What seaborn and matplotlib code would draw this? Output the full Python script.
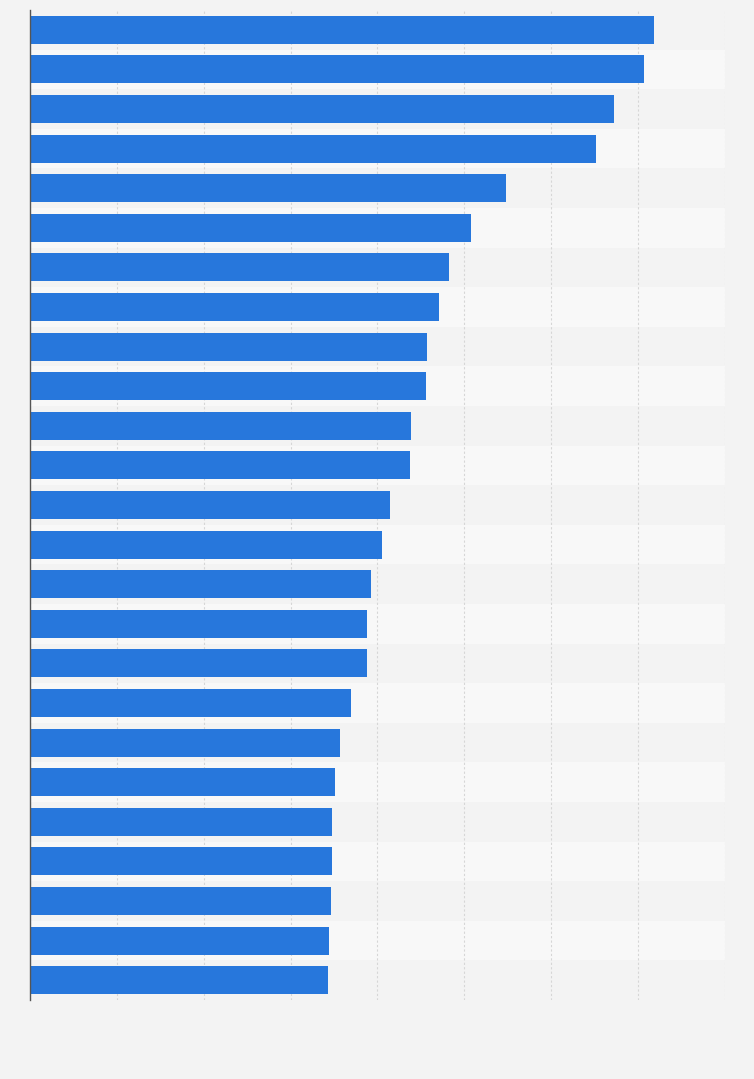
import numpy as np
import pandas as pd
import matplotlib
matplotlib.use("Agg")
import matplotlib.pyplot as plt
import seaborn as sns

sns.set_theme(style="white")

# Bar values (axis runs 0 to 8, unlabelled)
categories = [str(i) for i in range(1, 26)]
values = [7.18, 7.07, 6.72, 6.51, 5.48, 5.08, 4.82, 4.71, 4.57, 4.56,
          4.38, 4.37, 4.14, 4.05, 3.92, 3.88, 3.88, 3.69, 3.57, 3.51,
          3.48, 3.48, 3.46, 3.44, 3.43]

df = pd.DataFrame({"category": categories, "value": values})

fig = plt.figure(figsize=(7.54, 10.79), dpi=100)
fig.patch.set_facecolor("#f3f3f3")
ax = fig.add_axes([30 / 754, 1 - 1000 / 1079, 695 / 754, 990 / 1079])
ax.set_facecolor("#f3f3f3")

# alternating row bands
for i in range(len(categories)):
    if i % 2 == 1:
        ax.axhspan(i - 0.5, i + 0.5, color="#f8f8f8", zorder=0, lw=0)

sns.barplot(data=df, x="value", y="category", orient="h", color="#2777dc",
            saturation=1, width=0.71, linewidth=0, edgecolor="none",
            ax=ax, zorder=3)

ax.set_xlim(0, 8)
ax.set_ylim(len(categories) - 0.5, -0.5)
ax.set_xticks(np.arange(0, 9, 1))
ax.xaxis.grid(True, linestyle=(0, (2, 2)), color="#d6d6d6", linewidth=0.8, zorder=1)
ax.set_axisbelow(True)
ax.tick_params(left=False, bottom=False, labelleft=False, labelbottom=False)
ax.set_xlabel("")
ax.set_ylabel("")
for side in ["top", "right", "bottom"]:
    ax.spines[side].set_visible(False)
ax.spines["left"].set_color("#555555")
ax.spines["left"].set_linewidth(1.0)
ax.spines["left"].set_zorder(5)

fig.savefig("out.png", dpi=100, facecolor=fig.get_facecolor())
